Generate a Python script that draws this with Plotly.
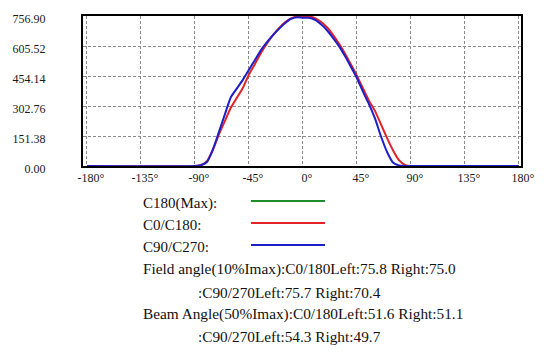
import plotly.graph_objects as go

# ---- data ----
angles = [-180, -90, -85, -80, -75, -70, -65, -60, -55, -50, -45, -40, -35, -30, -25, -20, -15, -10, -5,
          0, 5, 10, 15, 20, 25, 30, 35, 40, 45, 50, 55, 60, 65, 70, 75, 80, 85, 90, 180]
c0_c180 = [0, 0, 5, 25, 82, 160, 228, 295, 345, 395, 462, 515, 570, 618, 660, 695, 725, 745, 755,
           757, 756, 746, 728, 700, 662, 618, 568, 512, 455, 392, 330, 278, 210, 142, 80, 30, 6, 0, 0]
c90_c270 = [0, 0, 4, 20, 85, 172, 262, 348, 392, 436, 486, 535, 585, 625, 660, 692, 720, 742, 751,
            748, 748, 738, 715, 685, 647, 605, 555, 500, 443, 375, 312, 240, 150, 72, 18, 3, 0, 0, 0]

y_tickvals = [0, 151.38, 302.76, 454.14, 605.52, 756.90]
y_ticktext = ["0.00", "151.38", "302.76", "454.14", "605.52", "756.90"]
x_tickvals = [-180, -135, -90, -45, 0, 45, 90, 135, 180]
x_ticktext = ["-180°", "-135°", "-90°", "-45°", "0°", "45°", "90°", "135°", "180°"]

legend_labels = ["C180(Max):", "C0/C180:", "C90/C270:"]
legend_colors = ["rgb(30,140,40)", "rgb(225,35,40)", "rgb(30,30,200)"]
info_lines = [
    "Field angle(10%Imax):C0/180Left:75.8 Right:75.0",
    ":C90/270Left:75.7 Right:70.4",
    "Beam Angle(50%Imax):C0/180Left:51.6 Right:51.1",
    ":C90/270Left:54.3 Right:49.7",
]

# page body has an 8px margin; figure coordinates are page coordinates minus 8
OFF = 8
W, H = 551 - OFF, 364 - OFF
L, R, T, B = 83 - OFF, 521 - OFF, 16 - OFF, 166 - OFF
FONT = "Liberation Serif, Times New Roman, serif"


def px(xp):
    return (xp - OFF - L) / (R - L)


def py(yp):
    return (B - (yp - OFF)) / (B - T)


fig = go.Figure()
fig.add_trace(go.Scatter(x=angles, y=c0_c180, mode="lines",
                         line=dict(color=legend_colors[1], width=2, shape="spline", smoothing=0.6),
                         showlegend=False, hoverinfo="skip"))
fig.add_trace(go.Scatter(x=angles, y=c90_c270, mode="lines",
                         line=dict(color=legend_colors[2], width=2, shape="spline", smoothing=0.6),
                         showlegend=False, hoverinfo="skip"))

axis_common = dict(showline=True, linecolor="black", linewidth=2, mirror=True,
                   showgrid=True, gridcolor="#8a8a8a", griddash="3px,2px", gridwidth=1,
                   zeroline=False, ticks="", layer="below traces", automargin=False,
                   ticklabeloverflow="allow",
                   tickfont=dict(family=FONT, size=12, color="#1a1a1a"))

fig.update_xaxes(range=[-183.3, 181.7], tickvals=x_tickvals, ticktext=x_ticktext,
                 ticklabelshift=4, ticklabelstandoff=0, **axis_common)
fig.update_yaxes(range=[0, 756.9], tickvals=y_tickvals, ticktext=y_ticktext,
                 ticklabelstandoff=33, ticklabelshift=3, **axis_common)

anns = []
leg_y = [203, 225, 247]
line_y = [201, 223, 245]
shapes = []
for lab, col, yy, ly in zip(legend_labels, legend_colors, leg_y, line_y):
    anns.append(dict(text=lab, x=px(141), y=py(yy), xref="paper", yref="paper",
                     xanchor="left", yanchor="middle", showarrow=False,
                     font=dict(family=FONT, size=15, color="#111")))
    shapes.append(dict(type="line", xref="paper", yref="paper",
                       x0=px(251), x1=px(325), y0=py(ly), y1=py(ly),
                       line=dict(color=col, width=2)))

info_x = [141, 196, 141, 196]
info_y = [269, 292, 314, 337]
for t, xx, yy in zip(info_lines, info_x, info_y):
    anns.append(dict(text=t, x=px(xx), y=py(yy), xref="paper", yref="paper",
                     xanchor="left", yanchor="middle", showarrow=False,
                     font=dict(family=FONT, size=15.3, color="#111")))

fig.update_layout(width=W, height=H, margin=dict(l=L, r=W - R, t=T, b=H - B),
                  paper_bgcolor="white", plot_bgcolor="white",
                  annotations=anns, shapes=shapes, showlegend=False)

fig.write_html("out.html")
